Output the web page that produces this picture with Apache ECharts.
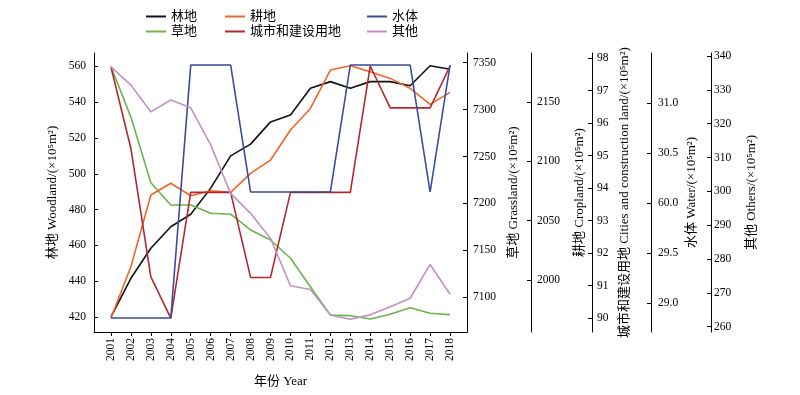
<!DOCTYPE html>
<html><head><meta charset="utf-8">
<script src="https://cdn.jsdelivr.net/npm/echarts@6/dist/echarts.min.js"></script>
<style>html,body{margin:0;padding:0;background:#fff}#c{width:800px;height:395px}</style>
</head><body><div id="c"></div>
<script>
const years = [2001,2002,2003,2004,2005,2006,2007,2008,2009,2010,2011,2012,2013,2014,2015,2016,2017,2018];
const woodland = [420,441.6,458.4,470.4,477.4,492,510,516.6,529,532.8,547.8,551.5,547.8,551.5,551.5,549.2,560.4,558.4];
const grassland = [7346,7292,7222,7198.4,7198.4,7189.5,7188.5,7171.7,7161,7141.6,7111.3,7081,7080.4,7076.9,7081.9,7088.9,7083,7081.5];
const cropland = [1968,2011.2,2071.6,2081.5,2071,2075.2,2073.9,2089.9,2101.1,2126.4,2144.6,2176.9,2180.5,2175.5,2169.9,2161.5,2148,2158.1];
const cities = [97.73,95.22,91.27,90,93.87,93.87,93.87,91.25,91.25,93.87,93.87,93.87,93.87,97.76,96.47,96.47,96.47,97.76];
const water = [28.85,28.85,28.85,28.85,31.38,31.38,31.38,30.11,30.11,30.11,30.11,30.11,31.38,31.38,31.38,31.38,30.11,31.38];
const others = [336.8,331.4,323.5,327,324.7,313.7,299.4,293.5,286.1,272.1,271,263.5,262.2,263.5,265.9,268.4,278.4,269.6];

const woodlandTicks = [420,440,460,480,500,520,540,560];
const grassTicks = [7100,7150,7200,7250,7300,7350];
const cropTicks = [2000,2050,2100,2150];
const cityTicks = [90,91,92,93,94,95,96,97,98];
const waterTicks = [29.0,29.5,30.0,30.5,31.0];
const waterTickLabels = ['29.0','29.5','60.0','30.5','31.0'];
const othersTicks = [260,270,280,290,300,310,320,330,340];

const names = ['林地','草地','耕地','城市和建设用地','水体','其他'];
const colors = ['#111111','#6ab44c','#f0652a','#b3282d','#3b4a9c','#c291c2'];

const FF = "'Liberation Serif','Noto Sans CJK SC',serif";
const axisColor = '#000';

function yAx(opt){
  return {
    type:'value', min:opt.min, max:opt.max, position:opt.position, offset:opt.offset||0,
    name:opt.name, nameLocation:'middle', nameGap:opt.nameGap, nameRotate:90,
    nameTextStyle:{fontFamily:FF,fontSize:13,color:'#000'},
    axisLine:{show:true,lineStyle:{color:axisColor,width:1}},
    axisTick:{show:true,inside:true,length:4,lineStyle:{color:axisColor},customValues:opt.ticks},
    axisLabel:{show:true,fontFamily:FF,fontSize:11.5,color:'#000',margin:opt.margin,customValues:opt.ticks,
      formatter:opt.formatter||(v=>String(v))},
    splitLine:{show:false}
  };
}

const legendBase = {orient:'vertical',icon:'rect',itemWidth:20,itemHeight:2,itemGap:2,
  textStyle:{fontFamily:FF,fontSize:13,color:'#000'}};

const chart = echarts.init(document.getElementById('c'));
const seriesData = [woodland,grassland,cropland,cities,water,others];
chart.setOption({
  animation:false,
  backgroundColor:'#fff',
  color:colors,
  grid:{left:94,right:333,top:53,bottom:63,containLabel:false},
  legend:[
    Object.assign({data:['林地','草地'],left:141,top:5},legendBase),
    Object.assign({data:['耕地','城市和建设用地'],left:220,top:5},legendBase),
    Object.assign({data:['水体','其他'],left:362,top:5},legendBase)
  ],
  xAxis:{
    type:'value', min:2000.15, max:2018.85,
    name:'年份 Year', nameLocation:'middle', nameGap:43,
    nameTextStyle:{fontFamily:FF,fontSize:13,color:'#000'},
    axisLine:{show:true,lineStyle:{color:axisColor}},
    axisTick:{show:true,inside:false,length:4,lineStyle:{color:axisColor},customValues:years},
    axisLabel:{fontFamily:FF,fontSize:11.5,color:'#000',rotate:90,margin:6,customValues:years,formatter:v=>String(v)},
    splitLine:{show:false}
  },
  yAxis:[
    yAx({min:411.6,max:567.5,position:'left',name:'林地 Woodland/(×10⁵m²)',nameGap:35,ticks:woodlandTicks,margin:8}),
    yAx({min:7063,max:7360.3,position:'right',offset:0,name:'草地 Grassland/(×10⁵m²)',nameGap:40,ticks:grassTicks,margin:6}),
    yAx({min:1956.2,max:2191.3,position:'right',offset:64,name:'耕地 Cropland/(×10⁵m²)',nameGap:42,ticks:cropTicks,margin:6}),
    yAx({min:89.57,max:98.16,position:'right',offset:125,name:'城市和建设用地 Cities and construction land/(×10⁵m²)',nameGap:26,ticks:cityTicks,margin:5}),
    yAx({min:28.71,max:31.5,position:'right',offset:184,name:'水体 Water/(×10⁵m²)',nameGap:34,ticks:waterTicks,margin:7,
      formatter:v=>{const i=waterTicks.findIndex(t=>Math.abs(t-v)<1e-6);return i>=0?waterTickLabels[i]:'';}}),
    yAx({min:258.43,max:340.89,position:'right',offset:244,name:'其他 Others/(×10⁵m²)',nameGap:34,ticks:othersTicks,margin:3})
  ],
  series:names.map((n,i)=>({
    name:n,type:'line',yAxisIndex:i,symbol:'none',
    lineStyle:{width:1.6,color:colors[i]},itemStyle:{color:colors[i]},
    data:years.map((y,j)=>[y,seriesData[i][j]])
  }))
});
</script></body></html>
